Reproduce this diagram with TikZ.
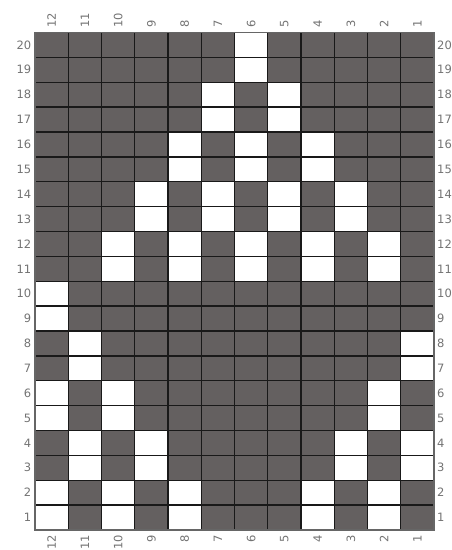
\documentclass[tikz,border=0pt]{standalone}
\usepackage{fontspec}
\setmainfont{DejaVu Sans}
\definecolor{cellgray}{RGB}{100,96,96}
\definecolor{labgray}{RGB}{115,115,115}
\tikzset{
  lab/.style={font=\fontsize{11.5}{11.5}\selectfont, text=labgray, inner sep=0pt},
  gridline/.style={draw=black!90, line width=1.4pt},
  frameline/.style={draw=black!60, line width=1.2pt},
}
\begin{document}
\begin{tikzpicture}[x=1pt,y=1pt]
\def\cw{33.25}
\def\rh{24.875}
\useasboundingbox (0,0) rectangle (451,550);
% dark background of the grid
\fill[cellgray] (35,20) rectangle (434,517.5);
% white cells
\foreach \r/\cols in {20/{6},19/{6},18/{7,5},17/{7,5},16/{8,6,4},15/{8,6,4},
  14/{9,7,5,3},13/{9,7,5,3},12/{10,8,6,4,2},11/{10,8,6,4,2},
  10/{12},9/{12},8/{11,1},7/{11,1},6/{12,10,2},5/{12,10,2},
  4/{11,9,3,1},3/{11,9,3,1},2/{12,10,8,4,2},1/{12,10,8,4,2}}{
  \foreach \c in \cols {
    \fill[white] ({35+(12-\c)*\cw},{20+(\r-1)*\rh}) rectangle ++(\cw,\rh);
  }
}
% grid lines
\foreach \i in {1,...,11}{
  \draw[gridline] ({35+\i*\cw},20) -- ++(0,497.5);
}
\foreach \j in {1,...,19}{
  \draw[gridline] (35,{20+\j*\rh}) -- ++(399,0);
}
\draw[frameline] (35,20) rectangle (434,517.5);
% column labels
\foreach \c in {1,...,12}{
  \node[lab, rotate=90, anchor=west] (top\c) at ({35+(12-\c+0.5)*\cw},522) {\c};
  \node[lab, rotate=90, anchor=east] (bot\c) at ({35+(12-\c+0.5)*\cw},15) {\c};
}
% row labels
\foreach \r in {1,...,20}{
  \node[lab, anchor=east] (left\r) at (31.5,{20+(\r-0.5)*\rh}) {\r};
  \node[lab, anchor=west] (right\r) at (437,{20+(\r-0.5)*\rh}) {\r};
}
\end{tikzpicture}
\end{document}
